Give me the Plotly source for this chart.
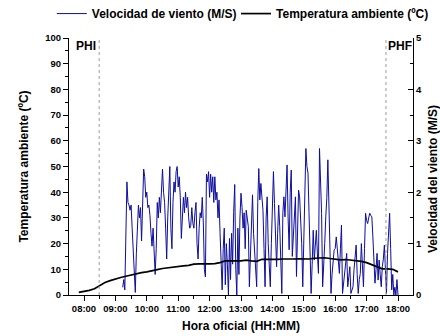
import pandas as pd
import plotly.graph_objects as go

DAY = "2024-01-01 "

# Wind speed (m/s), sampled every 2 minutes from 09:14 to 18:00
wind_start = "09:14"
wind_step = "2min"
wind_speed = [
    0.15, 0.3, 0.1, 0.9, 2.2, 1.8, 1.75, 1.65, 1.75, 1.3, 0.9, 0.5, 0.05, 0.8, 1.5,
    1.75, 1.5, 1.7, 1.05, 1.9, 2.45, 2.3, 1.9, 2.0, 1.7, 1.75, 1.55, 1.2, 0.95, 1.3,
    0.8, 0.4, 0.9, 1.8, 1.5, 1.9, 1.6, 2.1, 2.45, 2.0, 1.8, 1.3, 0.7, 1.5, 2.1,
    2.5, 1.3, 0.9, 1.8, 2.2, 2.0, 2.4, 2.5, 2.1, 2.3, 1.9, 1.1, 1.7, 1.9, 1.6,
    2.0, 1.7, 1.9, 1.5, 1.3, 1.35, 1.7, 1.4, 1.3, 1.6, 1.8, 1.0, 0.7, 1.3, 1.6,
    1.5, 1.9, 1.4, 0.5, 0.35, 2.35, 2.2, 2.4, 1.9, 2.35, 2.0, 2.3, 1.8, 2.3, 1.85,
    2.0, 1.5, 1.85, 1.2, 0.5, 0.1, 0.9, 1.3, 0.2, 1.0, 0.6, 0.0, 1.1, 0.3, 1.2,
    0.6, 1.6, 2.15, 0.5, 0.0, 1.3, 0.4, 1.5, 1.98, 1.7, 1.3, 1.6, 0.9, 1.65, 1.5,
    1.33, 0.16, 0.9, 1.6, 1.95, 1.2, 0.75, 0.4, 0.16, 1.8, 2.46, 1.85, 2.17, 1.9, 1.65,
    0.9, 0.16, 1.5, 1.91, 1.0, 0.4, 0.16, 1.0, 1.8, 2.4, 1.78, 1.0, 0.55, 1.2, 1.75,
    1.33, 0.5, 0.03, 1.6, 1.91, 1.52, 2.17, 2.53, 1.5, 0.88, 2.0, 2.43, 0.75, 1.2, 1.6,
    1.91, 0.36, 1.2, 2.04, 1.91, 1.5, 1.0, 0.16, 0.9, 1.85, 2.85, 2.5, 2.37, 1.6, 0.94,
    0.03, 0.6, 1.26, 0.68, 1.0, 1.26, 0.8, 0.42, 2.85, 2.1, 1.59, 0.16, 0.5, 1.0, 1.52,
    1.9, 2.63, 1.8, 1.07, 0.03, 0.4, 0.68, 0.88, 0.9, 1.13, 0.9, 0.68, 0.42, 0.9, 1.36,
    0.03, 0.2, 0.36, 0.6, 0.81, 0.16, 0.4, 0.55, 0.03, 0.1, 0.16, 0.5, 0.8, 0.97, 0.4,
    0.03, 0.3, 0.42, 1.0, 0.68, 0.16, 0.9, 1.59, 1.45, 1.39, 1.5, 1.59, 1.55, 1.52, 1.13,
    0.6, 0.23, 0.5, 0.81, 0.29, 0.68, 0.4, 0.16, 0.55, 0.7, 0.97, 0.4, 0.03, 0.81, 1.4,
    1.59, 0.9, 0.1, 0.4, 0.0, 0.15, 0.0, 0.3, 0.0,
]

# Ambient temperature (ºC), every 10 minutes from 07:50 to 18:00
temp_start = "07:50"
temp_step = "10min"
temperature = [
    1.0,
    1.3, 1.8, 2.4, 3.6, 4.9, 5.6,
    6.3, 6.8, 7.3, 7.8, 8.2, 8.7,
    9.0, 9.6, 9.9, 10.3, 10.6, 10.9,
    11.1, 11.3, 11.5, 12.0, 12.1, 12.0,
    12.1, 12.2, 12.6, 13.3, 13.4, 13.3,
    13.3, 13.6, 13.3, 13.1, 13.9, 13.8,
    13.9, 13.9, 14.0, 13.9, 14.0, 14.1,
    14.1, 14.0, 14.3, 14.5, 14.5, 14.2,
    13.8, 13.7, 13.8, 13.6, 13.4, 13.1,
    12.6, 11.8, 10.7, 10.2, 10.2, 10.0,
    9.0,
]

phi_time = "08:29"
phf_time = "17:37"
x_range = ["07:31:20", "18:28:40"]
x_tick0 = "08:00"

wind_t = pd.date_range(DAY + wind_start, periods=len(wind_speed), freq=wind_step)
temp_t = pd.date_range(DAY + temp_start, periods=len(temperature), freq=temp_step)

FONT = "Liberation Sans, Arial, sans-serif"

fig = go.Figure()
fig.add_trace(go.Scatter(
    x=wind_t, y=wind_speed, mode="lines", name="Velocidad de viento (M/S)",
    line=dict(color="#0d0d9e", width=1), yaxis="y", legend="legend",
))
fig.add_trace(go.Scatter(
    x=temp_t, y=temperature, mode="lines", name="Temperatura ambiente (ºC)",
    line=dict(color="black", width=1.7), yaxis="y2", legend="legend2",
))

for t in (phi_time, phf_time):
    fig.add_shape(type="line", xref="x", yref="paper", x0=DAY + t, x1=DAY + t,
                  y0=0, y1=1, line=dict(color="#9a9a9a", width=1, dash="dot"))

fig.add_annotation(x=DAY + phi_time, xref="x", y=0.969, yref="paper", text="PHI",
                   showarrow=False, xanchor="right", yanchor="middle", xshift=-1,
                   font=dict(family=FONT, size=12, color="black", weight="bold"))
fig.add_annotation(x=DAY + phf_time, xref="x", y=0.969, yref="paper", text="PHF",
                   showarrow=False, xanchor="left", yanchor="middle", xshift=0,
                   font=dict(family=FONT, size=12, color="black", weight="bold"))
fig.add_annotation(x=1.06, xref="paper", y=0.45, yref="paper",
                   text="Velocidad del viento (M/S)", textangle=-90, showarrow=False,
                   xanchor="center", yanchor="middle",
                   font=dict(family=FONT, size=12, color="black", weight="bold"))

tickfont = dict(family=FONT, size=9.5, color="black", weight="bold")
titlefont = dict(family=FONT, size=12, color="black", weight="bold")
legendfont = dict(family=FONT, size=12, color="black", weight="bold")

fig.update_layout(
    width=440, height=336,
    margin=dict(l=69, r=27, t=38, b=41, autoexpand=False),
    paper_bgcolor="white", plot_bgcolor="white",
    font=dict(family=FONT, color="black"),
    showlegend=True,
    legend=dict(orientation="h", x=-0.05, xanchor="left", y=1.095, yanchor="middle",
                font=legendfont, bgcolor="rgba(0,0,0,0)", borderwidth=0, itemwidth=30),
    legend2=dict(orientation="h", x=0.4855, xanchor="left", y=1.095, yanchor="middle",
                 font=legendfont, bgcolor="rgba(0,0,0,0)", borderwidth=0, itemwidth=30),
    xaxis=dict(
        type="date", range=[DAY + x_range[0], DAY + x_range[1]],
        tickformat="%H:%M", dtick=3600000, tick0=DAY + x_tick0,
        ticks="outside", ticklen=5, tickwidth=1, tickcolor="black",
        minor=dict(dtick=1800000, ticks="outside", ticklen=3, tickcolor="black"),
        showline=True, linecolor="black", linewidth=1, mirror=False,
        showgrid=False, zeroline=False, tickfont=tickfont,
        title=dict(text="Hora oficial (HH:MM)", font=titlefont, standoff=8),
    ),
    yaxis=dict(
        range=[0, 5], side="right", dtick=1, tick0=0,
        ticks="inside", ticklen=5, tickwidth=1, tickcolor="black",
        minor=dict(dtick=0.5, ticks="inside", ticklen=3, tickcolor="black"),
        showline=True, linecolor="black", linewidth=1,
        showgrid=False, zeroline=False, tickfont=tickfont,
    ),
    yaxis2=dict(
        range=[0, 100], side="left", overlaying="y", dtick=10, tick0=0,
        ticks="outside", ticklen=5, tickwidth=1, tickcolor="black",
        minor=dict(dtick=5, ticks="outside", ticklen=3, tickcolor="black"),
        showline=True, linecolor="black", linewidth=1,
        showgrid=False, zeroline=False, tickfont=tickfont,
        title=dict(text="Temperatura ambiente (ºC)", font=titlefont, standoff=14),
    ),
)

fig.write_html("out.html")
